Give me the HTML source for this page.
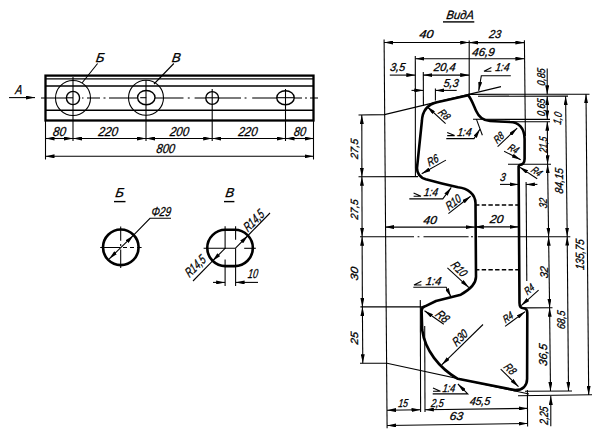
<!DOCTYPE html>
<html><head><meta charset="utf-8">
<style>
html,body{margin:0;padding:0;background:#fff;width:603px;height:447px;overflow:hidden}
svg{display:block}
text{font-family:"Liberation Sans",sans-serif;font-style:italic;font-size:13px;fill:#000;stroke:#000;stroke-width:0.3}
.t{fill:none;stroke:#000;stroke-width:1.08}
.m{fill:none;stroke:#000;stroke-width:1.4}
.k{fill:none;stroke:#000;stroke-width:2.6;stroke-linejoin:round;stroke-linecap:round}
.c{fill:none;stroke:#000;stroke-width:1.05}
.d{fill:none;stroke:#000;stroke-width:1.5;stroke-dasharray:4.4 2.3}
</style></head>
<body>
<svg width="603" height="447" viewBox="0 0 603 447">
<defs>
<marker id="a" viewBox="0 0 10 4" refX="10" refY="2" markerWidth="9" markerHeight="4" markerUnits="userSpaceOnUse" orient="auto-start-reverse" preserveAspectRatio="none"><path d="M0,0 L10,2 L0,4z" fill="#000"/></marker>
</defs>
<g id="bar">
<rect x="45.5" y="75.6" width="268" height="44.9" class="k" style="stroke-width:2.3;stroke-linecap:butt;stroke-linejoin:miter"/>
<line x1="45.5" y1="78.8" x2="313.5" y2="78.8" class="m" style="stroke-width:1.2"/>
<line x1="45.5" y1="86" x2="313.5" y2="86" class="m" style="stroke-width:1.3"/>
<line x1="45.5" y1="110.2" x2="313.5" y2="110.2" class="m" style="stroke-width:1.4"/>
<line x1="41" y1="98" x2="66.4" y2="98" class="c"/>
<line x1="82" y1="98" x2="83.5" y2="98" class="c"/>
<line x1="87" y1="98" x2="100" y2="98" class="c"/>
<line x1="103.5" y1="98" x2="105.5" y2="98" class="c"/>
<line x1="109" y1="98" x2="137.5" y2="98" class="c"/>
<line x1="155" y1="98" x2="183.5" y2="98" class="c"/>
<line x1="187.8" y1="98" x2="189.7" y2="98" class="c"/>
<line x1="194.6" y1="98" x2="205.8" y2="98" class="c"/>
<line x1="218.6" y1="98" x2="241" y2="98" class="c"/>
<line x1="244.6" y1="98" x2="246.5" y2="98" class="c"/>
<line x1="252.2" y1="98" x2="276.8" y2="98" class="c"/>
<line x1="294.3" y1="98" x2="302" y2="98" class="c"/>
<line x1="305" y1="98" x2="307" y2="98" class="c"/>
<line x1="310" y1="98" x2="318" y2="98" class="c"/>
<circle cx="73" cy="98" r="17.5" class="t"/>
<circle cx="73" cy="98" r="6.6" class="m"/>
<line x1="73" y1="77" x2="73" y2="141" class="t"/>
<circle cx="146" cy="97.8" r="17.5" class="t"/>
<ellipse cx="146.3" cy="97.6" rx="8.7" ry="7.1" class="m"/>
<line x1="146" y1="80" x2="146" y2="141" class="t"/>
<line x1="140.2" y1="97.7" x2="146.3" y2="97.7" class="t"/>
<line x1="66.4" y1="97.8" x2="73" y2="97.8" class="t"/>
<line x1="205.8" y1="97.8" x2="218.6" y2="97.8" class="t"/>
<line x1="276.8" y1="97.7" x2="294.3" y2="97.7" class="t"/>
<circle cx="212.2" cy="98" r="6.4" class="m"/>
<line x1="212.2" y1="89" x2="212.2" y2="141" class="t"/>
<ellipse cx="285.5" cy="97.7" rx="8.75" ry="7" class="m"/>
<line x1="285.5" y1="89" x2="285.5" y2="141" class="t"/>
<line x1="9" y1="97.6" x2="35" y2="97.6" class="t" marker-end="url(#a)"/>
<text transform="translate(15,93.5) skewX(-8)" textLength="6.8" lengthAdjust="spacingAndGlyphs">A</text>
<text transform="translate(95.5,62) skewX(-8)">Б</text>
<line x1="97.6" y1="63.5" x2="82" y2="83" class="t"/>
<text transform="translate(171.5,62) skewX(-8)">В</text>
<line x1="173.8" y1="63.5" x2="154" y2="84" class="t"/>
<line x1="45.5" y1="120" x2="45.5" y2="159.5" class="t"/>
<line x1="313.5" y1="120" x2="313.5" y2="159.5" class="t"/>
<line x1="45.5" y1="138.5" x2="73" y2="138.5" class="t" marker-start="url(#a)" marker-end="url(#a)"/>
<line x1="73" y1="138.5" x2="146" y2="138.5" class="t" marker-start="url(#a)" marker-end="url(#a)"/>
<line x1="146" y1="138.5" x2="212.2" y2="138.5" class="t" marker-start="url(#a)" marker-end="url(#a)"/>
<line x1="212.2" y1="138.5" x2="285.5" y2="138.5" class="t" marker-start="url(#a)" marker-end="url(#a)"/>
<line x1="285.5" y1="138.5" x2="313.5" y2="138.5" class="t" marker-start="url(#a)" marker-end="url(#a)"/>
<line x1="45.5" y1="156.3" x2="313.5" y2="156.3" class="t" marker-start="url(#a)" marker-end="url(#a)"/>
<text transform="translate(52.5,136) skewX(-8)" textLength="13" lengthAdjust="spacingAndGlyphs">80</text>
<text transform="translate(98,136) skewX(-8)" textLength="19.5" lengthAdjust="spacingAndGlyphs">220</text>
<text transform="translate(169.5,136) skewX(-8)" textLength="19" lengthAdjust="spacingAndGlyphs">200</text>
<text transform="translate(238,136) skewX(-8)" textLength="19" lengthAdjust="spacingAndGlyphs">220</text>
<text transform="translate(293.5,136) skewX(-8)" textLength="12" lengthAdjust="spacingAndGlyphs">80</text>
<text transform="translate(156,153.3) skewX(-8)" textLength="18.5" lengthAdjust="spacingAndGlyphs">800</text>
</g>
<g id="secB">
<text transform="translate(115,197) skewX(-8)">Б</text>
<line x1="114" y1="201.6" x2="125.5" y2="201.6" class="m"/>
<circle cx="120.8" cy="247.3" r="17.8" class="k"/>
<line x1="100.2" y1="247.5" x2="120.4" y2="247.5" class="c"/>
<line x1="123" y1="247.5" x2="127" y2="247.5" class="c"/>
<line x1="130" y1="247.5" x2="134" y2="247.5" class="c"/>
<line x1="137" y1="247.5" x2="141.6" y2="247.5" class="c"/>
<line x1="120.7" y1="226.5" x2="120.7" y2="240.7" class="c"/>
<line x1="120.7" y1="244" x2="120.7" y2="246" class="c"/>
<line x1="120.7" y1="249.5" x2="120.7" y2="267.9" class="c"/>
<line x1="109.2" y1="258.9" x2="133.6" y2="235.2" class="t" marker-start="url(#a)" marker-end="url(#a)"/>
<polyline points="133.6,235.2 150,218.3 171,218.3" class="t"/>
<text transform="translate(151,215.5) skewX(-8)" textLength="19.5" lengthAdjust="spacingAndGlyphs">Φ29</text>
</g>
<g id="secV">
<text transform="translate(225,197) skewX(-8)">В</text>
<line x1="224" y1="201.6" x2="234.4" y2="201.6" class="m"/>
<path d="M225.4,229.8 L234.7,229.8 A18.15,18.15 0 0 1 234.7,266.1 L225.4,266.1 A18.15,18.15 0 0 1 225.4,229.8 Z" class="k"/>
<line x1="203.6" y1="248.3" x2="235.6" y2="248.3" class="t"/>
<line x1="244.2" y1="248.3" x2="255.9" y2="248.3" class="t"/>
<line x1="225.1" y1="226.2" x2="225.1" y2="248.9" class="t"/>
<line x1="225.1" y1="259.4" x2="225.1" y2="286" class="t"/>
<line x1="235.6" y1="226.2" x2="235.6" y2="239.7" class="t"/>
<line x1="235.6" y1="248.3" x2="235.6" y2="286" class="t"/>
<line x1="225.3" y1="248.2" x2="212.4" y2="261.1" class="t" marker-end="url(#a)"/>
<line x1="212.4" y1="261.1" x2="193" y2="281" class="t"/>
<line x1="235.5" y1="248.2" x2="248" y2="235.5" class="t" marker-end="url(#a)"/>
<line x1="248" y1="235.5" x2="270" y2="213" class="t"/>
<line x1="213" y1="282.4" x2="225.1" y2="282.4" class="t" marker-end="url(#a)"/>
<line x1="258" y1="282.4" x2="235.6" y2="282.4" class="t" marker-end="url(#a)"/>
<text transform="translate(247.5,278.4) skewX(-8)" textLength="10" lengthAdjust="spacingAndGlyphs">10</text>
<text transform="translate(248,232.5) rotate(-45) skewX(-8)" textLength="24" lengthAdjust="spacingAndGlyphs">R14,5</text>
<text transform="translate(189.5,278) rotate(-45) skewX(-8)" textLength="24" lengthAdjust="spacingAndGlyphs">R14,5</text>
</g>
<g id="viewA">
<text transform="translate(446,18.9) skewX(-8)" textLength="27.5" lengthAdjust="spacingAndGlyphs" style="font-size:12px">ВидA</text>
<line x1="443" y1="21.9" x2="474.3" y2="21.9" class="m"/>
<line x1="384.1" y1="39.4" x2="387.1" y2="428.2" class="t"/>
<line x1="524.4" y1="40.3" x2="525.4" y2="136" class="t"/>
<line x1="526.1" y1="182" x2="526.8" y2="281" class="t"/>
<line x1="527.4" y1="390" x2="527.6" y2="426.5" class="t"/>
<line x1="469.2" y1="40.5" x2="469.2" y2="95" class="t"/>
<line x1="415.3" y1="56" x2="415.4" y2="176.5" class="t"/>
<line x1="423.3" y1="72" x2="423.4" y2="106" class="t"/>
<line x1="435.4" y1="88.5" x2="435.4" y2="100.5" class="t"/>
<line x1="384.1" y1="42.5" x2="469.2" y2="42.5" class="t" marker-start="url(#a)" marker-end="url(#a)"/>
<line x1="469.2" y1="42.6" x2="524.4" y2="42.6" class="t" marker-start="url(#a)" marker-end="url(#a)"/>
<line x1="415.4" y1="58.7" x2="524.4" y2="58.7" class="t" marker-start="url(#a)" marker-end="url(#a)"/>
<line x1="389.8" y1="75.1" x2="415.3" y2="75.1" class="t" marker-end="url(#a)"/>
<line x1="423.3" y1="75.1" x2="469.2" y2="75.1" class="t" marker-start="url(#a)" marker-end="url(#a)"/>
<line x1="411.5" y1="90.4" x2="423.3" y2="90.4" class="t" marker-end="url(#a)"/>
<line x1="456.7" y1="90.4" x2="435.4" y2="90.4" class="t" marker-end="url(#a)"/>
<text transform="translate(419,37.9) skewX(-8)" textLength="14" lengthAdjust="spacingAndGlyphs" style="font-size:11.5px">40</text>
<text transform="translate(488.8,37.8) skewX(-8)" textLength="12" lengthAdjust="spacingAndGlyphs" style="font-size:11.5px">23</text>
<text transform="translate(471.8,55.5) skewX(-8)" textLength="22.5" lengthAdjust="spacingAndGlyphs" style="font-size:11.5px">46,9</text>
<text transform="translate(389.8,70.7) skewX(-8)" textLength="15" lengthAdjust="spacingAndGlyphs" style="font-size:11.5px">3,5</text>
<text transform="translate(433.6,70.7) skewX(-8)" textLength="21.5" lengthAdjust="spacingAndGlyphs" style="font-size:11.5px">20,4</text>
<text transform="translate(443.2,87) skewX(-8)" textLength="15" lengthAdjust="spacingAndGlyphs" style="font-size:11.5px">5,3</text>
<polyline points="491.4,67.5 484,71.3 491.4,71.3" class="t"/>
<text transform="translate(495,70.7) skewX(-8)" textLength="14" lengthAdjust="spacingAndGlyphs" style="font-size:11.5px">1:4</text>
<polyline points="510.8,75.8 481.3,75.8 478.7,90.8" class="t" marker-end="url(#a)"/>
<polyline points="358.5,115 384.5,114.6 501,86.6" class="t"/>
<line x1="468" y1="94.4" x2="589.5" y2="94.2" class="t"/>
<line x1="478" y1="96.2" x2="568" y2="96.1" class="t"/>
<line x1="473" y1="119.3" x2="550" y2="119.4" class="t"/>
<line x1="500" y1="121.7" x2="550" y2="121.7" class="t"/>
<line x1="508" y1="164.3" x2="551" y2="164.3" class="t"/>
<line x1="358.5" y1="176.8" x2="418" y2="176.6" class="t"/>
<line x1="360" y1="236.8" x2="414" y2="236.7" class="c"/>
<line x1="417.6" y1="236.8" x2="419.4" y2="236.7" class="c"/>
<line x1="423.5" y1="236.8" x2="468.6" y2="236.7" class="c"/>
<line x1="471" y1="236.8" x2="473" y2="236.7" class="c"/>
<line x1="477.8" y1="236.8" x2="570.3" y2="236.7" class="c"/>
<line x1="360.4" y1="306.9" x2="423" y2="306.9" class="t"/>
<line x1="524" y1="307.9" x2="552.5" y2="307.7" class="t"/>
<polyline points="360,363.2 387,363.2 529,394" class="t"/>
<line x1="525" y1="391.2" x2="572" y2="391" class="t"/>
<line x1="518" y1="395.8" x2="592" y2="394.8" class="t"/>
<line x1="361.8" y1="115" x2="361.9" y2="176.8" class="t" marker-start="url(#a)" marker-end="url(#a)"/>
<line x1="361.9" y1="176.8" x2="362.1" y2="236.8" class="t" marker-start="url(#a)" marker-end="url(#a)"/>
<line x1="362.1" y1="236.8" x2="362.4" y2="306.9" class="t" marker-start="url(#a)" marker-end="url(#a)"/>
<line x1="362.4" y1="306.9" x2="362.8" y2="363.2" class="t" marker-start="url(#a)" marker-end="url(#a)"/>
<text transform="translate(358,159.2) rotate(-90) skewX(-8)" textLength="20" lengthAdjust="spacingAndGlyphs" style="font-size:10.5px">27,5</text>
<text transform="translate(358,219.7) rotate(-90) skewX(-8)" textLength="20" lengthAdjust="spacingAndGlyphs" style="font-size:10.5px">27,5</text>
<text transform="translate(358,280.8) rotate(-90) skewX(-8)" textLength="13.5" lengthAdjust="spacingAndGlyphs" style="font-size:10.5px">30</text>
<text transform="translate(358,344.7) rotate(-90) skewX(-8)" textLength="12.3" lengthAdjust="spacingAndGlyphs" style="font-size:10.5px">25</text>
<line x1="547.2" y1="68.6" x2="547.2" y2="94.3" class="t" marker-end="url(#a)"/>
<line x1="547.2" y1="96.2" x2="547.3" y2="119.4" class="t" marker-start="url(#a)" marker-end="url(#a)"/>
<line x1="547.3" y1="121.7" x2="547.6" y2="164.3" class="t" marker-start="url(#a)" marker-end="url(#a)"/>
<line x1="547.6" y1="164.3" x2="548.6" y2="236.7" class="t" marker-start="url(#a)" marker-end="url(#a)"/>
<line x1="548.6" y1="236.7" x2="549.6" y2="307.8" class="t" marker-start="url(#a)" marker-end="url(#a)"/>
<line x1="549.6" y1="307.8" x2="550.5" y2="391.1" class="t" marker-start="url(#a)" marker-end="url(#a)"/>
<line x1="550.8" y1="426.3" x2="550.8" y2="396" class="t" marker-end="url(#a)"/>
<line x1="565.6" y1="96.2" x2="567.2" y2="236.6" class="t" marker-start="url(#a)" marker-end="url(#a)"/>
<line x1="567.2" y1="236.6" x2="568.5" y2="391" class="t" marker-start="url(#a)" marker-end="url(#a)"/>
<line x1="586" y1="94.3" x2="588.7" y2="394.9" class="t" marker-start="url(#a)" marker-end="url(#a)"/>
<text transform="translate(545,86) rotate(-90) skewX(-8)" textLength="17.3" lengthAdjust="spacingAndGlyphs" style="font-size:11.2px">0,85</text>
<text transform="translate(545,116.4) rotate(-90) skewX(-8)" textLength="17.2" lengthAdjust="spacingAndGlyphs" style="font-size:11.2px">0,65</text>
<text transform="translate(560.8,125) rotate(-84) skewX(-8)" textLength="12" lengthAdjust="spacingAndGlyphs" style="font-size:11.2px">1,0</text>
<text transform="translate(546.5,153.1) rotate(-90) skewX(-8)" textLength="16" lengthAdjust="spacingAndGlyphs" style="font-size:11.2px">21,5</text>
<text transform="translate(546.5,208.4) rotate(-90) skewX(-8)" textLength="10" lengthAdjust="spacingAndGlyphs" style="font-size:11.2px">32</text>
<text transform="translate(563.3,194) rotate(-90) skewX(-8)" textLength="25.5" lengthAdjust="spacingAndGlyphs" style="font-size:11.5px">84,15</text>
<text transform="translate(547.5,278.6) rotate(-90) skewX(-8)" textLength="11.8" lengthAdjust="spacingAndGlyphs" style="font-size:11.2px">32</text>
<text transform="translate(546.8,366.3) rotate(-90) skewX(-8)" textLength="22" lengthAdjust="spacingAndGlyphs" style="font-size:11.5px">36,5</text>
<text transform="translate(565.2,329.4) rotate(-90) skewX(-8)" textLength="18.4" lengthAdjust="spacingAndGlyphs" style="font-size:11.2px">68,5</text>
<text transform="translate(584.3,270.3) rotate(-90) skewX(-8)" textLength="30.5" lengthAdjust="spacingAndGlyphs" style="font-size:12px">135,75</text>
<text transform="translate(548.2,425) rotate(-90) skewX(-8)" textLength="18" lengthAdjust="spacingAndGlyphs" style="font-size:12px">2,25</text>
<line x1="420.3" y1="300" x2="420.6" y2="412" class="t"/>
<line x1="424.7" y1="326" x2="425" y2="412" class="t"/>
<line x1="387" y1="410.2" x2="420.5" y2="409.8" class="t" marker-start="url(#a)" marker-end="url(#a)"/>
<line x1="424.9" y1="409.7" x2="527.6" y2="408.4" class="t" marker-start="url(#a)" marker-end="url(#a)"/>
<line x1="387.1" y1="425.5" x2="527.6" y2="423.5" class="t" marker-start="url(#a)" marker-end="url(#a)"/>
<text transform="translate(398,406.8) skewX(-8)" textLength="9.5" lengthAdjust="spacingAndGlyphs" style="font-size:11.5px">15</text>
<text transform="translate(430.8,406.5) skewX(-8)" textLength="12.6" lengthAdjust="spacingAndGlyphs" style="font-size:11.5px">2,5</text>
<text transform="translate(469.4,405.2) skewX(-8)" textLength="20.3" lengthAdjust="spacingAndGlyphs" style="font-size:11.5px">45,5</text>
<text transform="translate(449.2,420.2) skewX(-8)" textLength="13.5" lengthAdjust="spacingAndGlyphs" style="font-size:11.5px">63</text>
<line x1="385" y1="227.1" x2="474.8" y2="227.1" class="t" marker-start="url(#a)" marker-end="url(#a)"/>
<line x1="474.8" y1="226.9" x2="518.6" y2="226.9" class="t" marker-start="url(#a)" marker-end="url(#a)"/>
<line x1="500" y1="184.4" x2="518.6" y2="184.4" class="t" marker-end="url(#a)"/>
<line x1="537.4" y1="184.4" x2="525.9" y2="184.4" class="t" marker-end="url(#a)"/>
<text transform="translate(423.1,223.6) skewX(-8)" textLength="13.4" lengthAdjust="spacingAndGlyphs" style="font-size:11.5px">40</text>
<text transform="translate(489.5,222.9) skewX(-8)" textLength="13.4" lengthAdjust="spacingAndGlyphs" style="font-size:11.5px">20</text>
<text transform="translate(499.8,180.9) skewX(-8)" textLength="5.5" lengthAdjust="spacingAndGlyphs" style="font-size:11.5px">3</text>
<line x1="475" y1="204.9" x2="518.6" y2="204.9" class="d"/>
<line x1="475" y1="269.8" x2="519" y2="269.8" class="d"/>
<path class="k" d="M468.3,95.3 C471.5,99 473.5,105 476.2,111 C479,117.5 483,120.7 490,121 L510,122 C518.5,122.2 524.5,128 524.6,139 L524.6,159 C524.5,163.5 522.5,164.8 519.5,165 L518.6,166.5 L519.5,303 C519.5,307 521,308.2 523.5,308.2 C526,308.3 527.3,310 527.3,313 L527.1,379 C527,386 522.5,390.2 515,390.1 L457.8,378.8 C439,368 425,350 422.2,330 L421.6,311 C421.6,308.5 422.5,307 425,306.3 L436,301 L460.8,294.7 C467.5,291 476,285 476,276.8 L475.5,203 C475.2,194 468,188.5 458,187.3 L441.9,183.4 L425.8,179.3 C420,177.5 417,173 417,168 L421.9,121 C422.4,111 427,104.5 437,102.2 Z"/>
<line x1="445.6" y1="123.7" x2="427" y2="106.5" class="t" marker-end="url(#a)"/>
<line x1="497.6" y1="146.7" x2="517.2" y2="128.1" class="t" marker-end="url(#a)"/>
<line x1="504.1" y1="151.2" x2="520.7" y2="159.8" class="t" marker-end="url(#a)"/>
<line x1="445.9" y1="160.1" x2="421.7" y2="173.8" class="t" marker-end="url(#a)"/>
<line x1="537.2" y1="178.7" x2="519.6" y2="167.1" class="t" marker-end="url(#a)"/>
<line x1="448.4" y1="213.6" x2="470.6" y2="196.2" class="t" marker-end="url(#a)"/>
<line x1="447.4" y1="267.9" x2="468.9" y2="287.6" class="t" marker-end="url(#a)"/>
<line x1="443.8" y1="324.3" x2="424.5" y2="310.8" class="t" marker-end="url(#a)"/>
<line x1="483" y1="324.5" x2="441.7" y2="364.9" class="t" marker-end="url(#a)"/>
<line x1="505.1" y1="326.4" x2="525.2" y2="311.6" class="t" marker-end="url(#a)"/>
<line x1="500.7" y1="369.2" x2="518.5" y2="386.7" class="t" marker-end="url(#a)"/>
<line x1="538.6" y1="290.1" x2="521.2" y2="305.6" class="t" marker-end="url(#a)"/>
<text transform="translate(437.6,113.1) rotate(43) skewX(-8)" textLength="11" lengthAdjust="spacingAndGlyphs" style="font-size:10.5px">R8</text>
<text transform="translate(497.2,144.3) rotate(-45) skewX(-8)" textLength="10.5" lengthAdjust="spacingAndGlyphs" style="font-size:10.5px">R8</text>
<text transform="translate(507,149.5) rotate(27) skewX(-8)" textLength="10" lengthAdjust="spacingAndGlyphs" style="font-size:10.5px">R4</text>
<text transform="translate(429.3,166.8) rotate(-29.5) skewX(-8)" textLength="11.5" lengthAdjust="spacingAndGlyphs" style="font-size:11.5px">R6</text>
<text transform="translate(530.2,171.5) rotate(33) skewX(-8)" textLength="10" lengthAdjust="spacingAndGlyphs" style="font-size:10.5px">R4</text>
<text transform="translate(449,211) rotate(-38.5) skewX(-8)" textLength="16.5" lengthAdjust="spacingAndGlyphs" style="font-size:12px">R10</text>
<text transform="translate(450,265.5) rotate(45) skewX(-8)" textLength="17" lengthAdjust="spacingAndGlyphs" style="font-size:12px">R10</text>
<text transform="translate(434.5,315.5) rotate(38) skewX(-8)" textLength="13" lengthAdjust="spacingAndGlyphs" style="font-size:12.5px">R8</text>
<text transform="translate(456.5,347) rotate(-45) skewX(-8)" textLength="17" lengthAdjust="spacingAndGlyphs" style="font-size:12px">R30</text>
<text transform="translate(527.5,295.5) rotate(-42) skewX(-8)" textLength="10" lengthAdjust="spacingAndGlyphs" style="font-size:10.5px">R4</text>
<text transform="translate(505.5,323.5) rotate(-36) skewX(-8)" textLength="10.5" lengthAdjust="spacingAndGlyphs" style="font-size:10.5px">R4</text>
<text transform="translate(503,367.5) rotate(43) skewX(-8)" textLength="11.5" lengthAdjust="spacingAndGlyphs" style="font-size:11.5px">R8</text>
<polyline points="447.2,132.4 454.59999999999997,135.6 447.2,135.6" class="t"/>
<text transform="translate(457,135.6) skewX(-8)" textLength="14" lengthAdjust="spacingAndGlyphs" style="font-size:11.5px">1:4</text>
<polyline points="446.3,138.6 474,138.6 479.9,129.2" class="t" marker-end="url(#a)"/>
<line x1="476.4" y1="119.1" x2="482.4" y2="135.2" class="t"/>
<polyline points="413.6,193.10000000000002 421.0,196.3 413.6,196.3" class="t"/>
<text transform="translate(423.6,195.9) skewX(-8)" textLength="13.9" lengthAdjust="spacingAndGlyphs" style="font-size:11.5px">1:4</text>
<polyline points="409.3,198.9 442.8,198.9 451.3,187.4" class="t" marker-end="url(#a)"/>
<polyline points="421.4,281.2 414,285 421.4,285" class="t"/>
<text transform="translate(425.6,284.6) skewX(-8)" textLength="15.2" lengthAdjust="spacingAndGlyphs" style="font-size:11.5px">1:4</text>
<polyline points="413.3,287.3 446.2,287.3 451,296.9" class="t" marker-end="url(#a)"/>
<polyline points="433,388.1 440.4,391.3 433,391.3" class="t"/>
<text transform="translate(442.3,391.6) skewX(-8)" textLength="12.6" lengthAdjust="spacingAndGlyphs" style="font-size:11.5px">1:4</text>
<polyline points="432.7,393.9 467.8,393.9 457.9,384" class="t" marker-end="url(#a)"/>
</g>
</svg>
</body></html>
